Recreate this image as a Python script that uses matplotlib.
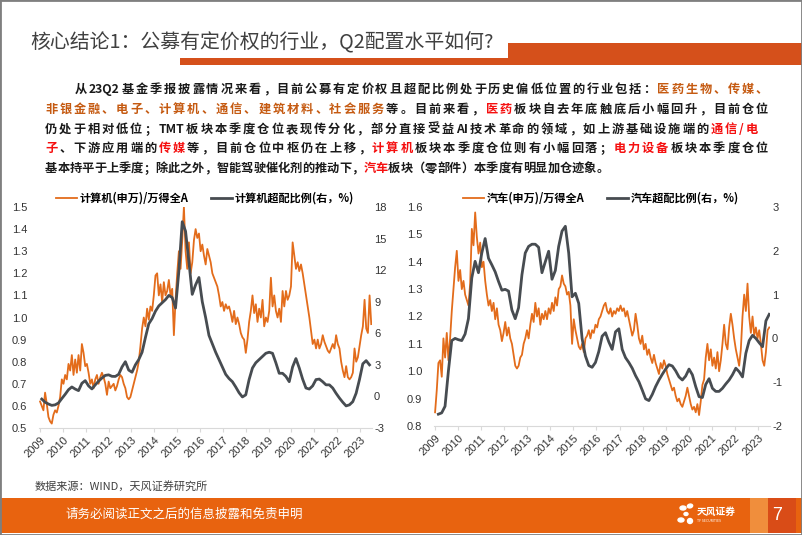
import matplotlib.pyplot as plt
import matplotlib.dates as mdates
from matplotlib.patches import Rectangle, Ellipse
import pandas as pd

plt.rcParams['font.family'] = ['Noto Sans CJK SC', 'DejaVu Sans']

W, H = 802, 535
ORANGE = '#E36C1B'
GRAY = '#474C51'
BROWN = '#C55A11'
RED = '#F50F0F'
INK = '#1A1A1A'

# ---- data ----
# 计算机(申万)/万得全A, left axis
comp_ratio = [
    0.62, 0.60, 0.58, 0.66, 0.61, 0.55, 0.53, 0.52, 0.56, 0.58,
    0.57, 0.60, 0.64, 0.72, 0.70, 0.74, 0.72, 0.79, 0.76, 0.83,
    0.74, 0.81, 0.75, 0.83, 0.76, 0.88, 0.84, 0.78, 0.79, 0.75,
    0.70, 0.72, 0.68, 0.72, 0.74, 0.70, 0.73, 0.75, 0.73, 0.70,
    0.65, 0.71, 0.68, 0.69, 0.70, 0.67, 0.69, 0.72, 0.74, 0.73,
    0.70, 0.68, 0.64, 0.63, 0.64, 0.67, 0.70, 0.73, 0.76, 0.80,
    0.87, 0.95, 1.00, 0.96, 1.04, 0.99, 1.05, 1.03, 1.10, 1.19,
    1.20, 1.10, 1.15, 1.07, 1.16, 1.10, 1.12, 1.17, 1.10, 1.13,
    0.92, 1.08, 1.20, 1.30, 1.22, 1.35, 1.50, 1.30, 1.22, 1.34,
    1.20, 1.25, 1.35, 1.40, 1.36, 1.38, 1.30, 1.33, 1.28, 1.24,
    1.31, 1.28, 1.25, 1.20, 1.18, 1.16, 1.14, 1.10, 1.05, 1.07,
    1.03, 1.06, 1.04, 1.05, 1.02, 0.98, 1.03, 0.97, 1.00, 0.97,
    0.93, 0.91, 0.90, 0.84, 0.90, 0.98, 1.03, 1.10, 1.02, 1.06,
    0.98, 1.04, 1.00, 1.08, 0.96, 1.00, 0.98, 1.03, 1.18, 1.05,
    1.10, 1.03, 1.00, 1.04, 0.98, 1.12, 1.05, 1.12, 1.08, 1.10,
    1.14, 1.34, 1.28, 1.22, 1.25, 1.21, 1.24, 1.20, 1.15, 1.10,
    1.05, 1.00, 0.94, 0.88, 0.90, 0.86, 0.90, 0.86, 0.88, 0.92,
    0.89, 0.87, 0.85, 0.84, 0.86, 0.88, 0.86, 0.92, 0.88, 0.86,
    0.80, 0.76, 0.73, 0.78, 0.73, 0.72, 0.73, 0.75, 0.86, 0.80,
    0.82, 0.87, 0.92, 0.96, 1.08, 0.95, 0.93, 1.10, 0.97,
]
# 计算机超配比例 (右, %)
comp_over = [
    -0.25, -0.55, -0.72, -0.85, -0.80, -0.62, -0.20, 0.20, 0.64, 0.90,
    0.70, 0.55, 1.25, 1.50, 1.00, 0.71, 1.10, 1.45, 1.75, 2.00,
    2.05, 1.91, 1.90, 2.10, 2.80, 3.30, 2.50, 2.30, 3.00, 3.50,
    4.20, 5.60, 6.90, 7.40, 8.10, 8.60, 8.90, 9.20, 9.60, 9.40,
    8.40, 11.9, 16.6, 15.7, 12.8, 9.70, 10.6, 11.3, 9.00, 7.50,
    5.80, 5.00, 4.20, 3.50, 2.80, 2.10, 1.70, 1.40, 0.90, 0.35,
    -0.05, 0.15, 1.60, 2.70, 3.20, 3.50, 3.80, 4.10, 4.20, 4.10,
    3.20, 2.20, 2.20, 1.90, 1.40, 2.80, 3.60, 2.70, 1.65, 0.80,
    0.70, 1.00, 1.60, 1.65, 1.40, 1.10, 1.10, 0.80, 0.30, -0.15,
    -0.55, -0.90, -0.80, -0.50, 0.30, 1.60, 3.10, 3.40, 3.00,
]
# 汽车(申万)/万得全A, left axis
auto_ratio = [
    0.85, 0.93, 1.03, 1.04, 0.98, 1.12, 1.05, 1.14, 1.04, 1.12,
    1.22, 1.30, 1.38, 1.44, 1.33, 1.37, 1.30, 1.33, 1.28, 1.26,
    1.24, 1.32, 1.52, 1.46, 1.58, 1.49, 1.43, 1.47, 1.38, 1.40,
    1.33, 1.28, 1.24, 1.26, 1.22, 1.25, 1.19, 1.23, 1.17, 1.15,
    1.11, 1.14, 1.18, 1.13, 1.16, 1.12, 1.10, 1.06, 1.02, 1.01,
    1.02, 1.05, 1.06, 1.10, 1.12, 1.15, 1.12, 1.17, 1.21, 1.18,
    1.25, 1.20, 1.23, 1.17, 1.21, 1.19, 1.22, 1.19, 1.23, 1.21,
    1.25, 1.22, 1.27, 1.24, 1.30, 1.31, 1.35, 1.32, 1.31, 1.28,
    1.29, 1.24, 1.10, 1.19, 1.15, 1.12, 1.09, 1.08, 1.10, 1.07,
    1.12, 1.13, 1.15, 1.12, 1.15, 1.14, 1.17, 1.16, 1.19, 1.20,
    1.22, 1.24, 1.25, 1.22, 1.21, 1.23, 1.20, 1.22, 1.21, 1.23,
    1.22, 1.24, 1.22, 1.23, 1.20, 1.22, 1.19, 1.16, 1.13, 1.15,
    1.21, 1.17, 1.12, 1.10, 1.13, 1.08, 1.10, 1.06, 1.08, 1.05,
    1.03, 1.06, 1.03, 1.01, 0.99, 1.03, 1.01, 1.04, 1.02, 0.99,
    0.97, 0.95, 0.93, 0.94, 0.91, 0.89, 0.90, 0.88, 0.87, 0.89,
    0.91, 0.94, 0.91, 0.88, 0.86, 0.87, 0.85, 0.88, 0.84, 0.89,
    0.95, 0.97, 1.05, 1.10, 1.04, 1.08, 1.02, 1.05, 1.01, 1.07,
    1.00, 1.04, 1.10, 1.17, 1.10, 1.08, 1.16, 1.21, 1.17, 1.12,
    1.08, 1.05, 1.02, 1.08, 1.20, 1.28, 1.22, 1.32, 1.20, 1.14,
    1.20, 1.13, 1.16, 1.12, 1.15, 1.10, 1.04, 1.02, 1.07, 1.15,
    1.16,
]
# 汽车超配比例 (右, %)
auto_over = [
    -1.73, -1.70, -1.55, -0.75, -0.05, 0.00, -0.03, -0.05, 0.10, 0.45,
    1.38, 1.76, 1.50, 1.95, 2.28, 1.83, 1.68, 1.52, 1.30, 1.10,
    1.12, 1.08, 0.65, 0.45, 0.70, 1.45, 1.95, 2.10, 2.15, 2.15,
    2.08, 1.50, 1.75, 1.99, 1.35, 1.55, 2.10, 2.45, 2.56, 1.95,
    0.95, 1.03, 0.80, 0.00, -0.40, -0.62, -0.66, -0.55, -0.30, 0.05,
    0.13, -0.08, -0.25, 0.15, 0.22, -0.25, -0.44, -0.55, -0.68, -0.85,
    -0.99, -1.18, -1.38, -1.42, -1.28, -1.10, -0.95, -0.82, -0.70, -0.60,
    -0.63, -0.74, -0.88, -0.95, -0.86, -0.70, -0.83, -1.10, -1.33, -1.35,
    -1.05, -0.92, -1.14, -1.21, -1.21, -1.14, -1.04, -0.95, -0.83, -0.68,
    -0.76, -0.88, -0.34, -0.05, 0.07, 0.00, -0.10, -0.19, 0.40, 0.55,
]

comp_ratio_dates = pd.date_range('2009-01-01', '2023-06-30', periods=len(comp_ratio))
comp_over_dates = pd.date_range('2009-01-28', '2023-06-02', periods=len(comp_over))
auto_ratio_dates = pd.date_range('2009-01-01', '2023-06-30', periods=len(auto_ratio))
auto_over_dates = pd.date_range('2009-02-22', '2023-06-30', periods=len(auto_over))

title = '核心结论1：公募有定价权的行业，Q2配置水平如何?'
body = [
    [('从23Q2基金季报披露情况来看，目前公募有定价权且超配比例处于历史偏低位置的行业包括：', INK),
     ('医药生物、传媒、', BROWN)],
    [('非银金融、电子、计算机、通信、建筑材料、社会服务', BROWN), ('等。目前来看，', INK),
     ('医药', RED), ('板块自去年底触底后小幅回升，目前仓位', INK)],
    [('仍处于相对低位；TMT板块本季度仓位表现传分化，部分直接受益AI技术革命的领域，如上游基础设施端的', INK),
     ('通信/电', RED)],
    [('子', RED), ('、下游应用端的', INK), ('传媒', RED), ('等，目前仓位中枢仍在上移，', INK),
     ('计算机', RED), ('板块本季度仓位则有小幅回落；', INK), ('电力设备', RED), ('板块本季度仓位', INK)],
    [('基本持平于上季度；除此之外，智能驾驶催化剂的推动下，', INK), ('汽车', RED),
     ('板块（零部件）本季度有明显加仓迹象。', INK)],
]
source = '数据来源：WIND，天风证券研究所'
footer = '请务必阅读正文之后的信息披露和免责申明'

fig = plt.figure(figsize=(W / 100, H / 100), dpi=100)
fig.patch.set_facecolor('white')


def rect(x0, y0, x1, y1, color, **kw):
    fig.add_artist(Rectangle((x0 / W, 1 - y1 / H), (x1 - x0) / W, (y1 - y0) / H,
                             transform=fig.transFigure, facecolor=color,
                             edgecolor='none', **kw))


# header
fig.text(30 / W, 1 - 48 / H, title, fontsize=14.3, color='#404040', va='baseline')
rect(180, 58, 802, 65, '#D5501B')
rect(508, 43, 802, 65, '#D5501B')

# body text, justified token by token (latin runs kept together)
r = fig.canvas.get_renderer()
BODY_SIZE = 8.8
_cache = {}


def adv(tok):
    if tok not in _cache:
        def w(s):
            t = fig.text(0, 0, s, fontsize=BODY_SIZE, weight='bold')
            v = t.get_window_extent(renderer=r).width
            t.remove()
            return v
        _cache[tok] = w('中' + tok + '中') - w('中中')
    return _cache[tok]


def tokens(segs):
    out = []
    for s, col in segs:
        for c in s:
            if out and c.isascii() and c != '/' and out[-1][0][-1].isascii() \
                    and out[-1][0][-1] != '/' and out[-1][1] == col:
                out[-1] = (out[-1][0] + c, col)
            else:
                out.append((c, col))
    return out


line_specs = [(75, 768, 93, True), (45, 768, 113, True), (45, 758, 133, True),
              (45, 768, 152, True), (45, 0, 172, False)]
for (x0, x1, yb, just), segs in zip(line_specs, body):
    toks = tokens(segs)
    widths = [adv(t) for t, _ in toks]
    gap = (x1 - x0 - sum(widths)) / (len(toks) - 1) if just else 0
    x = x0
    for (t, col), w in zip(toks, widths):
        fig.text(x / W, 1 - yb / H, t, fontsize=BODY_SIZE, weight='bold', color=col,
                 va='baseline', ha='left')
        x += w + gap


def draw_chart(ax, d1, v1, d2, v2, ylim1, yt1, fmt1, ylim2, yt2, labels, cx):
    ax2 = ax.twinx()
    l1, = ax.plot(d1, v1, color=ORANGE, lw=1.3)
    l2, = ax2.plot(d2, v2, color=GRAY, lw=2.0)
    ax.set_ylim(*ylim1)
    ax.set_yticks(yt1)
    ax.set_yticklabels([fmt1 % v for v in yt1])
    ax2.set_ylim(*ylim2)
    ax2.set_yticks(yt2)
    ax2.set_yticklabels(['%d' % v for v in yt2])
    ax.set_xlim(pd.Timestamp('2008-12-15'), pd.Timestamp('2023-07-12'))
    ax.xaxis.set_major_locator(mdates.YearLocator())
    ax.xaxis.set_major_formatter(mdates.DateFormatter('%Y'))
    for a in (ax, ax2):
        for s in a.spines.values():
            s.set_visible(False)
        a.patch.set_visible(False)
    ax.spines['bottom'].set_visible(True)
    ax.spines['bottom'].set_color('#D9D9D9')
    ax.tick_params(axis='x', length=3, color='#D9D9D9', pad=2, labelsize=8,
                   labelcolor='#333333', labelrotation=45)
    ax.tick_params(axis='y', length=0, pad=8.5, labelsize=8, labelcolor='#333333')
    ax2.tick_params(axis='y', length=0, pad=1.5, labelsize=8, labelcolor='#333333')
    for lab in ax.get_xticklabels():
        lab.set_ha('right')
        lab.set_rotation_mode('anchor')
        lab.set_family(['Liberation Sans'])
    for lab in ax.get_yticklabels() + ax2.get_yticklabels():
        lab.set_family(['Liberation Sans'])
    fig.legend([l1, l2], labels, loc='center', bbox_to_anchor=(cx / W, 1 - 198 / H),
               ncol=2, frameon=False, handlelength=1.9, handletextpad=0.25,
               columnspacing=2.0, prop=dict(family='Noto Sans CJK SC', weight='bold', size=8))


axL = fig.add_axes([39 / W, 1 - 428 / H, (372 - 39) / W, (428 - 207) / H])
draw_chart(axL, comp_ratio_dates, comp_ratio, comp_over_dates, comp_over,
           (0.5, 1.5), [0.5 + 0.1 * i for i in range(11)], '%.1f',
           (-3, 18), list(range(-3, 19, 3)),
           ['计算机(申万)/万得全A', '计算机超配比例(右，%)'], 205)

axR = fig.add_axes([434 / W, 1 - 426 / H, (770 - 434) / W, (426 - 207) / H])
draw_chart(axR, auto_ratio_dates, auto_ratio, auto_over_dates, auto_over,
           (0.8, 1.6), [0.8 + 0.1 * i for i in range(9)], '%.1f',
           (-2, 3), list(range(-2, 4)),
           ['汽车(申万)/万得全A', '汽车超配比例(右，%)'], 601)

# source
fig.text(35 / W, 1 - 486 / H, source, fontsize=8, color='#404040', va='center')

# footer band
rect(0, 498, 802, 533, '#E8630F')
rect(750, 498, 768, 533, '#F08E3C')
rect(768, 498, 796, 533, '#D94C17')
fig.text(65 / W, 1 - 514 / H, footer, fontsize=9, color='white', va='center')
for ex, ey, ew, eh, ang in [(683, 508, 6, 4, 30), (690, 506, 5, 4, -30),
                            (681, 520, 6, 4, -30), (690, 521, 5, 5, 0), (686, 514, 4, 3, 0)]:
    fig.add_artist(Ellipse((ex / W, 1 - ey / H), ew / W, eh / H, angle=ang,
                           transform=fig.transFigure, color='white'))
fig.text(697 / W, 1 - 512 / H, '天风证券', fontsize=7, color='white', weight='bold', va='center')
fig.text(697 / W, 1 - 521 / H, 'TF SECURITIES', fontsize=2.5, color='white', va='center')
fig.text(777 / W, 1 - 515 / H, '7', fontsize=13, color='white', va='center', ha='center',
         family=['Liberation Sans'])

# slide frame
fig.add_artist(Rectangle((0, 0), 1, 1, transform=fig.transFigure, fill=False,
                         edgecolor='#7F7F7F', lw=2))

fig.savefig('out.png', dpi=100)
